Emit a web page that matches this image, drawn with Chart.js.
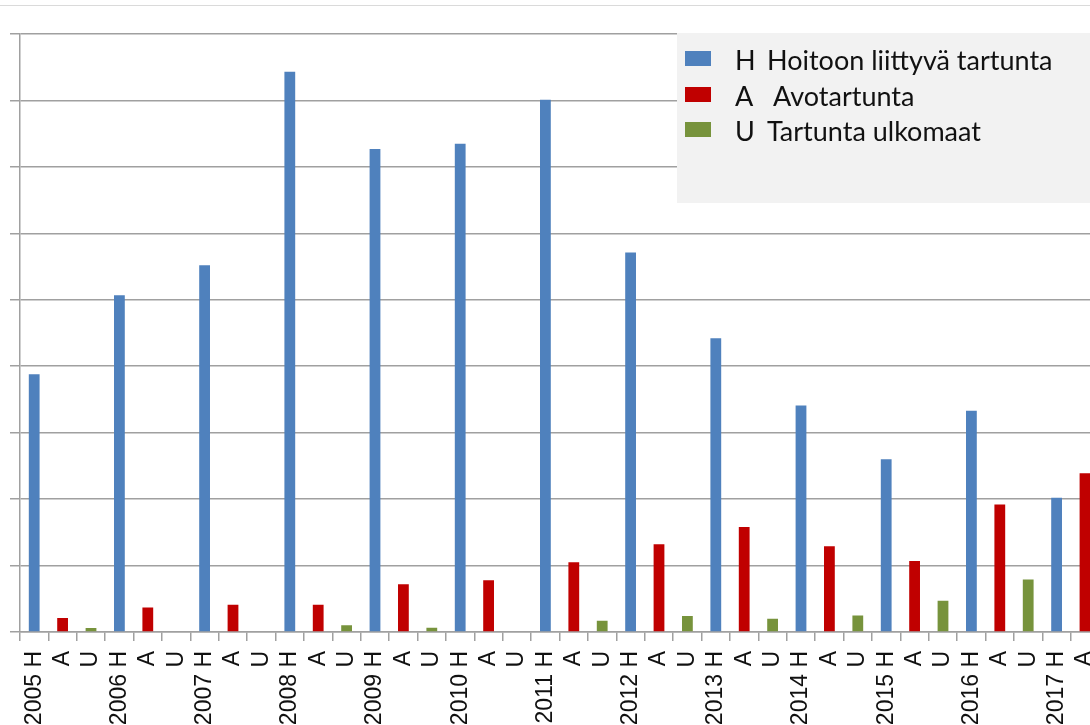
<!DOCTYPE html>
<html>
<head>
<meta charset="utf-8">
<script src="https://cdn.jsdelivr.net/npm/chart.js@4.4.1/dist/chart.umd.min.js"></script>
<style>
  html, body { margin: 0; padding: 0; background: #fff; overflow: hidden; width: 1090px; height: 725px; }
  #topline { position: absolute; left: 0; top: 5px; width: 1090px; height: 1px; background: #dadada; }
  #chart { position: absolute; left: 0; top: 0; }
</style>
</head>
<body>
<div id="topline"></div>
<canvas id="chart" width="1151" height="725"></canvas>
<script>
// --- data ---
const years = [2005, 2006, 2007, 2008, 2009, 2010, 2011, 2012, 2013, 2014, 2015, 2016, 2017];
const codes = ['H', 'A', 'U'];
const seriesNames = ['Hoitoon liittyvä tartunta', 'Avotartunta', 'Tartunta ulkomaat'];
const hoito = [38.8, 50.7, 55.2, 84.3, 72.7, 73.5, 80.1, 57.1, 44.2, 34.1, 26.0, 33.3, 20.2];
const avo   = [2.1, 3.7, 4.1, 4.1, 7.2, 7.8, 10.5, 13.2, 15.8, 12.9, 10.7, 19.2, 23.9];
const ulko  = [0.6, 0, 0, 1.0, 0.65, 0, 1.7, 2.4, 2.0, 2.5, 4.7, 7.9, null]; // 2017 U not visible
const colors = ['#4f81bd', '#c00000', '#77933c'];

// labels: "2005 H", "A", "U", "2006 H", ...
const labels = [];
years.forEach(y => codes.forEach((c, j) => labels.push(j === 0 ? y + ' ' + c : c)));

// each series only fills its own slot
function spread(values, slot) {
  const out = [];
  values.forEach(v => codes.forEach((_, j) => out.push(j === slot ? v : null)));
  return out;
}

const allSeries = [hoito, avo, ulko];
const datasets = allSeries.map((vals, i) => ({
  label: codes[i] + '  ' + seriesNames[i],
  data: spread(vals, i),
  backgroundColor: colors[i],
  borderWidth: 0,
  barPercentage: 0.38,
  categoryPercentage: 1
}));

// legend drawn as a grey box inside the plot
const legendBox = {
  id: 'legendBox',
  afterDraw(chart) {
    const ctx = chart.ctx;
    ctx.save();
    ctx.fillStyle = '#f2f2f2';
    ctx.fillRect(677, 33, 480, 170);
    const baselines = [70, 106, 141];
    ctx.font = '27px Lato, "Open Sans", sans-serif';
    ctx.textBaseline = 'alphabetic';
    ctx.textAlign = 'left';
    codes.forEach((c, i) => {
      ctx.fillStyle = colors[i];
      ctx.fillRect(685, baselines[i] - 19, 26, 15);
      ctx.fillStyle = '#111';
      ctx.fillText(c, 735, baselines[i]);
      ctx.fillText(seriesNames[i], i === 1 ? 773 : 767, baselines[i]);
    });
    ctx.restore();
  }
};

new Chart(document.getElementById('chart'), {
  type: 'bar',
  data: { labels: labels, datasets: datasets },
  plugins: [legendBox],
  options: {
    responsive: false,
    animation: false,
    devicePixelRatio: 1,
    skipNull: true,
    layout: { padding: { top: 34, left: 0, right: 0, bottom: 0 } },
    plugins: {
      legend: { display: false },
      tooltip: { enabled: false }
    },
    scales: {
      x: {
        stacked: true,
        afterFit: s => { s.height = 93; },
        border: { color: '#a0a0a0', width: 1.5 },
        grid: {
          drawOnChartArea: false,
          offset: true,
          color: '#a0a0a0',
          lineWidth: 1.5,
          tickLength: 9
        },
        ticks: {
          autoSkip: false,
          minRotation: 90,
          maxRotation: 90,
          padding: 10,
          color: '#111',
          font: { family: '"Liberation Sans", Arial, sans-serif', size: 23 }
        }
      },
      y: {
        min: 0,
        max: 90,
        afterFit: s => { s.width = 20; },
        border: { color: '#a0a0a0', width: 1.5 },
        grid: {
          color: '#a0a0a0',
          lineWidth: 1.5,
          tickLength: 10
        },
        ticks: { stepSize: 10, display: false }
      }
    }
  }
});
</script>
</body>
</html>
